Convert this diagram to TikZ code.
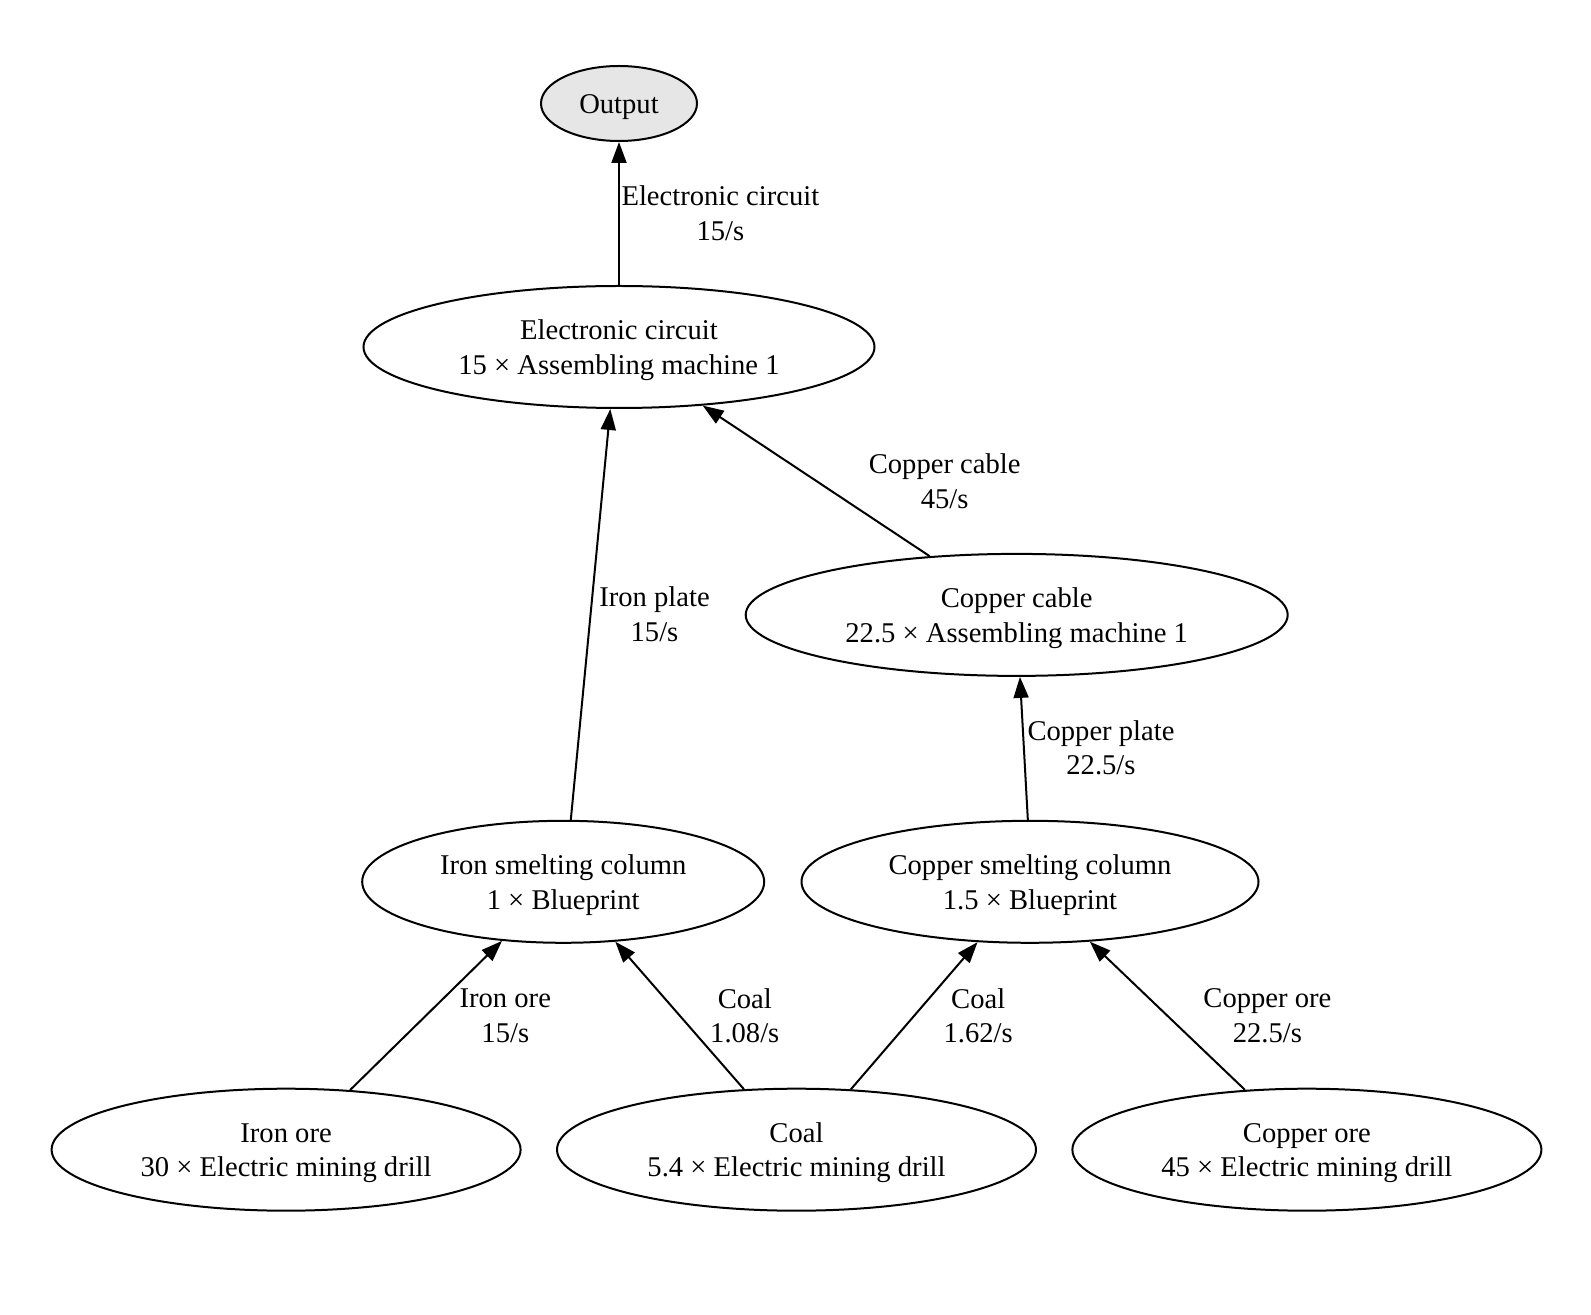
\documentclass[tikz,border=0pt]{standalone}
\usepackage{fontspec}
\setmainfont{Liberation Serif}
\usetikzlibrary{shapes.geometric,arrows.meta}
\definecolor{outfill}{RGB}{230,230,230}
\newcommand{\topstrut}{\rule{0pt}{13pt}}
\tikzset{
  every node/.style={font=\fontsize{14.3}{17.25}\selectfont, align=center},
  nd/.style={ellipse, draw, line width=1pt, inner sep=0pt},
  lbl/.style={inner sep=0pt},
  edge/.style={line width=1pt, -{Triangle[length=10.5pt,width=7.5pt]}},
}
\begin{document}
\begin{tikzpicture}[x=0.5pt,y=-0.5pt]
\useasboundingbox (0,0) rectangle (1591,1315);
\node[nd, fill=outfill, minimum width=78pt, minimum height=37.5pt] (out) at (619,103.5) {\topstrut Output};
\node[nd, minimum width=255.5pt, minimum height=61pt] (ec) at (619,347) {\topstrut Electronic circuit\\15 × Assembling machine 1};
\node[nd, minimum width=271pt, minimum height=61pt] (cc) at (1016.7,614.9) {\topstrut Copper cable\\22.5 × Assembling machine 1};
\node[nd, minimum width=201pt, minimum height=61pt] (is) at (563.2,881.8) {\topstrut Iron smelting column\\1 × Blueprint};
\node[nd, minimum width=228.5pt, minimum height=61pt] (cs) at (1030,881.8) {\topstrut Copper smelting column\\1.5 × Blueprint};
\node[nd, minimum width=234.5pt, minimum height=61pt] (io) at (286.1,1149.7) {\topstrut Iron ore\\30 × Electric mining drill};
\node[nd, minimum width=239.5pt, minimum height=61pt] (coal) at (796.5,1149.7) {\topstrut Coal\\5.4 × Electric mining drill};
\node[nd, minimum width=234.5pt, minimum height=61pt] (co) at (1306.9,1149.7) {\topstrut Copper ore\\45 × Electric mining drill};

\draw[edge] (ec.north) -- (out.south);
\draw[edge] (is.83.3) -- (ec.262.5);
\draw[edge] (cc.146) -- (ec.325.9);
\draw[edge] (cs.92.9) -- (cc.273.8);
\draw[edge] (io.43.6) -- (is.224.5);
\draw[edge] (coal.131.9) -- (is.311.5);
\draw[edge] (coal.48.7) -- (cs.229.1);
\draw[edge] (co.136.4) -- (cs.315.9);

\node[lbl] (l1) at (720.4,213) {Electronic circuit\\15/s};
\node[lbl] (l2) at (944.7,481) {Copper cable\\45/s};
\node[lbl] (l3) at (654.5,614) {Iron plate\\15/s};
\node[lbl] (l4) at (1101,748) {Copper plate\\22.5/s};
\node[lbl] (l5) at (505.3,1015.7) {Iron ore\\15/s};
\node[lbl] (l6) at (744.8,1015.7) {Coal\\1.08/s};
\node[lbl] (l7) at (978.2,1015.7) {Coal\\1.62/s};
\node[lbl] (l8) at (1267.4,1015.7) {Copper ore\\22.5/s};
\end{tikzpicture}
\end{document}
